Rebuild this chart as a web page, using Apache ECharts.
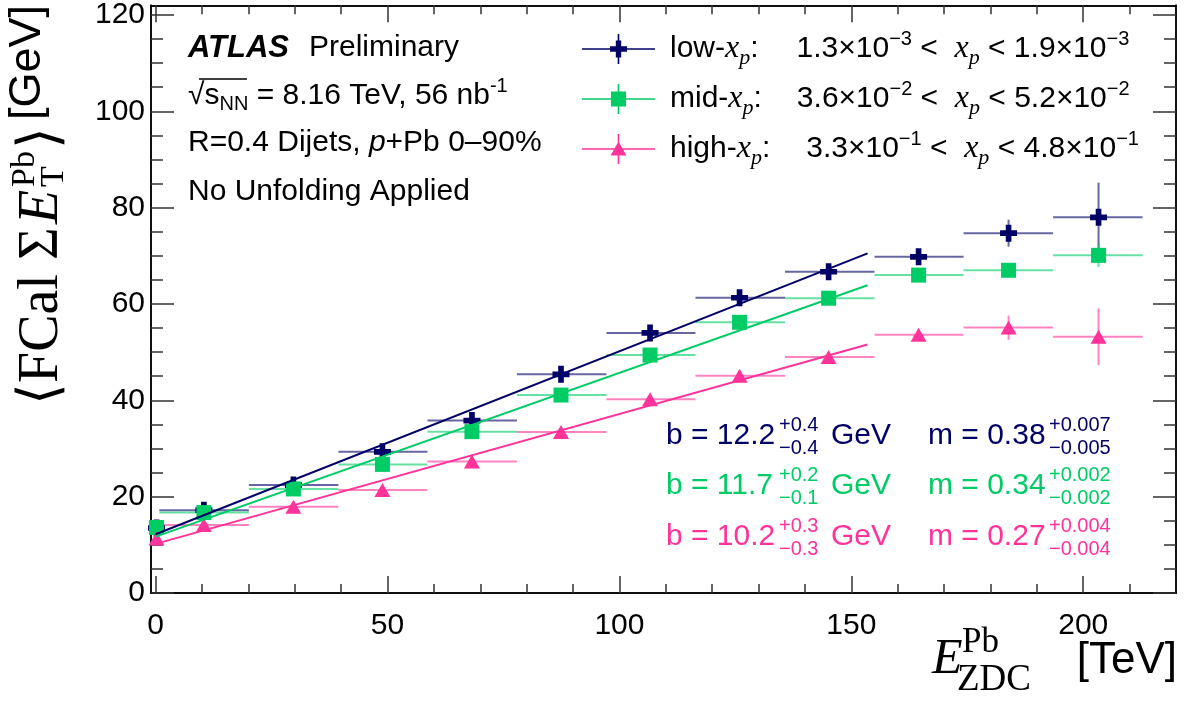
<!DOCTYPE html>
<html><head><meta charset="utf-8">
<script src="https://cdn.jsdelivr.net/npm/echarts@6/dist/echarts.min.js"></script>
<style>html,body{margin:0;padding:0;background:#fff}#c{width:1192px;height:710px}</style>
</head><body><div id="c"></div>
<script>
// ---------------- data ----------------
const xCenters = [0.2, 10.4, 29.7, 48.9, 68.2, 87.4, 106.6, 125.9, 145.1, 164.5, 183.9, 203.3];
const binLo    = [-0.3, 0.8, 20.1, 39.4, 58.6, 77.9, 97.2, 116.4, 135.7, 155.0, 174.2, 193.5];
const binHi    = [0.7, 20.1, 39.4, 58.6, 77.9, 97.2, 116.4, 135.7, 155.0, 174.2, 193.5, 212.8];
const lowY   = [13.5, 17.2, 22.4, 29.3, 35.8, 45.4, 54.0, 61.3, 66.7, 69.8, 74.7, 78.0];
const lowErr = [0.3, 0.3, 0.3, 0.4, 0.4, 0.5, 0.5, 0.6, 0.7, 1.0, 2.8, 7.2];
const midY   = [13.6, 16.7, 21.6, 26.7, 33.5, 41.1, 49.4, 56.2, 61.2, 66.0, 67.0, 70.1];
const midErr = [0.2, 0.2, 0.3, 0.3, 0.3, 0.4, 0.4, 0.5, 0.6, 0.8, 1.2, 2.4];
const highY  = [11.3, 14.1, 17.9, 21.4, 27.3, 33.4, 40.2, 45.1, 49.0, 53.6, 55.1, 53.2];
const highErr= [0.2, 0.2, 0.3, 0.3, 0.4, 0.4, 0.5, 0.6, 0.7, 1.2, 2.5, 5.9];
const fitX     = [0, 153.5];
const fitLowY  = [12.2, 70.5];
const fitMidY  = [11.7, 63.9];
const fitHighY = [10.2, 51.6];
const xMajorTicks = [0, 50, 100, 150, 200];
const xMinorTicks = [10, 20, 30, 40, 60, 70, 80, 90, 110, 120, 130, 140, 160, 170, 180, 190, 210];
const yMajorTicks = [0, 20, 40, 60, 80, 100, 120];
const yMinorTicks = [5, 10, 15, 25, 30, 35, 45, 50, 55, 65, 70, 75, 85, 90, 95, 105, 110, 115];
const seriesNames = ['low', 'mid', 'high'];
const legendPrefix = ['low-', 'mid-', 'high-'];
const rangeLoMant = ['1.3', '3.6', '3.3'];
const rangeHiMant = ['1.9', '5.2', '4.8'];
const rangeExp = ['\u22123', '\u22122', '\u22121'];
const fitB = ['12.2', '11.7', '10.2'];
const fitBUp = ['+0.4', '+0.2', '+0.3'];
const fitBDn = ['\u22120.4', '\u22120.1', '\u22120.3'];
const fitM = ['0.38', '0.34', '0.27'];
const fitMUp = ['+0.007', '+0.002', '+0.004'];
const fitMDn = ['\u22120.005', '\u22120.002', '\u22120.004'];

// ---------------- style ----------------
const COLORS = ['#000066', '#00cc66', '#ff3399'];
const SANS = "'Liberation Sans', Arial, Helvetica, sans-serif";
const SERIF = "'Liberation Serif', 'Times New Roman', serif";
const CROSS = 'path://M6,0H12V6H18V12H12V18H6V12H0V6H6Z';
const ICONS = [
  'path://M0,14.2H73V15.8H0Z M35.7,0H37.3V30H35.7Z M33.8,6.5H39.2V12.3H45V17.7H39.2V23.5H33.8V17.7H28V12.3H33.8Z',
  'path://M0,14.2H73V15.8H0Z M35.7,0H37.3V30H35.7Z M29,7.5H44V22.5H29Z',
  'path://M0,14.2H73V15.8H0Z M35.7,0H37.3V30H35.7Z M36.5,7.5L44.5,21.5H28.5Z'
];
const SYMBOLS = [CROSS, 'rect', 'triangle'];
const SYMSIZE = [17, 15, [16, 14]];
const yData = [lowY, midY, highY];
const yErr = [lowErr, midErr, highErr];
const fitY = [fitLowY, fitMidY, fitHighY];

function errRenderer(color) {
  return function (params, api) {
    const x = api.value(0), y = api.value(1);
    const a = api.coord([api.value(2), y]), b = api.coord([api.value(3), y]);
    const c = api.coord([x, api.value(4)]), d = api.coord([x, api.value(5)]);
    const st = { stroke: color, lineWidth: 2, opacity: 0.6 };
    return { type: 'group', children: [
      { type: 'line', shape: { x1: a[0], y1: a[1], x2: b[0], y2: b[1] }, style: st },
      { type: 'line', shape: { x1: c[0], y1: c[1], x2: d[0], y2: d[1] }, style: st }
    ] };
  };
}

const series = [];
for (let s = 0; s < 3; s++) {
  const errData = xCenters.map((x, i) => [x, yData[s][i], binLo[i], binHi[i], yData[s][i] - yErr[s][i], yData[s][i] + yErr[s][i]]);
  series.push({ type: 'custom', name: seriesNames[s] + '_err', renderItem: errRenderer(COLORS[s]),
    data: errData, encode: { x: [0, 2, 3], y: [1, 4, 5] }, silent: true, z: 2 });
  series.push({ type: 'scatter', name: seriesNames[s], data: xCenters.map((x, i) => [x, yData[s][i]]),
    symbol: SYMBOLS[s], symbolSize: SYMSIZE[s], itemStyle: { color: COLORS[s], opacity: 1 }, silent: true, z: 3 });
}
for (let s = 0; s < 3; s++) {
  series.push({ type: 'line', name: seriesNames[s] + '_fit', data: fitX.map((x, i) => [x, fitY[s][i]]),
    showSymbol: false, symbol: 'none', lineStyle: { color: COLORS[s], width: 2 }, silent: true, z: 4 });
}

const lineSt = { color: '#000', width: 1.5 };
const tickSt = { color: '#333', width: 1.5 };
function xAx(pos, ticks, len, labels) {
  return { type: 'value', min: -1, max: 220, position: pos, gridIndex: 0,
    axisLine: { show: true, onZero: false, lineStyle: lineSt },
    axisTick: { show: true, inside: true, length: len, customValues: ticks, lineStyle: tickSt },
    axisLabel: labels ? { show: true, customValues: ticks, fontFamily: SANS, fontSize: 30, color: '#000', margin: 18 } : { show: false },
    splitLine: { show: false } };
}
function yAx(pos, ticks, len, labels) {
  return { type: 'value', min: 0, max: 122, position: pos, gridIndex: 0,
    axisLine: { show: true, onZero: false, lineStyle: lineSt },
    axisTick: { show: true, inside: true, length: len, customValues: ticks, lineStyle: tickSt },
    axisLabel: labels ? { show: true, customValues: ticks, fontFamily: SANS, fontSize: 30, color: '#000', margin: 6 } : { show: false },
    splitLine: { show: false } };
}

function T(text, x, y, opt) {
  return Object.assign({ type: 'text', x: x, y: y, silent: true, style: Object.assign({ text: text, fill: '#000',
    fontFamily: SANS, fontSize: 30, align: 'left', verticalAlign: 'middle', textAlign: 'left', textVerticalAlign: 'middle' }, opt || {}) });
}

const graphics = [];
// ATLAS block
graphics.push(T('ATLAS', 188, 48, { fontWeight: 'bold', fontStyle: 'italic', fontSize: 31 }));
graphics.push(T('Preliminary', 309, 48));
graphics.push(T('{t|\u221A}{t|s}{sub|NN}{t| = 8.16 TeV, 56 nb}{sup|-1}', 188, 96, {
  rich: { t: { fontFamily: SANS, fontSize: 30 }, sub: { fontFamily: SANS, fontSize: 20, padding: [16, 0, 0, 0] }, sup: { fontFamily: SANS, fontSize: 20, padding: [0, 0, 20, 0] } } }));
graphics.push({ type: 'line', silent: true, shape: { x1: 199, y1: 79, x2: 247, y2: 79 }, style: { stroke: '#000', lineWidth: 1.5 } });
graphics.push(T('{t|R=0.4 Dijets, }{ti|p}{t|+Pb 0\u201390%}', 188, 143, {
  rich: { t: { fontFamily: SANS, fontSize: 30 }, ti: { fontFamily: SANS, fontSize: 30, fontStyle: 'italic' } } }));
graphics.push(T('No Unfolding Applied', 188, 192));

// fit parameter texts
const fitRowY = [436, 486, 537];
for (let s = 0; s < 3; s++) {
  const y = fitRowY[s], c = COLORS[s];
  graphics.push(T('b = ' + fitB[s], 666, y, { fill: c }));
  graphics.push(T(fitBUp[s], 779, y - 11, { fill: c, fontSize: 20 }));
  graphics.push(T(fitBDn[s], 779, y + 12, { fill: c, fontSize: 20 }));
  graphics.push(T('GeV', 831, y, { fill: c }));
  graphics.push(T('m = ' + fitM[s], 928, y, { fill: c }));
  graphics.push(T(fitMUp[s], 1049, y - 11, { fill: c, fontSize: 20 }));
  graphics.push(T(fitMDn[s], 1049, y + 12, { fill: c, fontSize: 20 }));
}

// x axis title
graphics.push(T('E', 932, 660, { fontFamily: SERIF, fontStyle: 'italic', fontSize: 50 }));
graphics.push(T('Pb', 962, 643, { fontFamily: SERIF, fontSize: 35 }));
graphics.push(T('ZDC', 957, 680, { fontFamily: SERIF, fontSize: 37 }));
graphics.push(T('[TeV]', 1177, 661, { fontSize: 44, align: 'right', textAlign: 'right' }));

// y axis title (rotated group)
graphics.push({ type: 'group', x: 42, y: 405, rotation: Math.PI / 2, silent: true, children: [
  T('\u27E8FCal', 0, 0, { fontFamily: SERIF, fontSize: 56 }),
  T('\u03A3', 145, 0, { fontFamily: SERIF, fontSize: 56 }),
  T('E', 181, 0, { fontFamily: SERIF, fontStyle: 'italic', fontSize: 56 }),
  T('Pb', 218, -17, { fontFamily: SERIF, fontSize: 34 }),
  T('T', 218, 12, { fontFamily: SERIF, fontSize: 34 }),
  T('\u27E9', 256, 0, { fontFamily: SERIF, fontSize: 56 }),
  T('[GeV]', 285, -14, { fontSize: 45 })
] });

const chart = echarts.init(document.getElementById('c'), null, { renderer: 'canvas' });
chart.setOption({
  animation: false,
  backgroundColor: '#fff',
  grid: { left: 151, right: 16, top: 5, bottom: 117, containLabel: false },
  xAxis: [xAx('bottom', xMajorTicks, 17, true), xAx('bottom', xMinorTicks, 9, false), xAx('top', xMajorTicks, 17, false), xAx('top', xMinorTicks, 9, false)],
  yAxis: [yAx('left', yMajorTicks, 23, true), yAx('left', yMinorTicks, 12, false), yAx('right', yMajorTicks, 23, false), yAx('right', yMinorTicks, 12, false)],
  legend: {
    orient: 'vertical', left: 582, top: 29, padding: 0, itemWidth: 73, itemHeight: 30, itemGap: 10, selectedMode: false,
    data: seriesNames.map((n, i) => ({ name: n, icon: ICONS[i], itemStyle: { color: COLORS[i] } })),
    formatter: function (name) {
      const i = seriesNames.indexOf(name);
      return '{sp|}{t|' + legendPrefix[i] + '}{xi|x}{sub|p}{t|:}{g' + i + '|}{t|' + rangeLoMant[i] + '\u00D710}{sup|' + rangeExp[i] +
        '}{t| <  }{xi|x}{sub|p}{t| < ' + rangeHiMant[i] + '\u00D710}{sup|' + rangeExp[i] + '}';
    },
    textStyle: { fontFamily: SANS, fontSize: 30, color: '#000', rich: {
      sp: { width: 10 }, g0: { width: 38 }, g1: { width: 35 }, g2: { width: 36 },
      t: { fontFamily: SANS, fontSize: 30, color: '#000' },
      xi: { fontFamily: SERIF, fontStyle: 'italic', fontSize: 32, color: '#000' },
      sub: { fontFamily: SERIF, fontStyle: 'italic', fontSize: 22, color: '#000', padding: [18, 0, 0, 0] },
      sup: { fontFamily: SANS, fontSize: 20, color: '#000', padding: [0, 0, 20, 0] }
    } }
  },
  graphic: graphics,
  series: series
});
</script></body></html>
